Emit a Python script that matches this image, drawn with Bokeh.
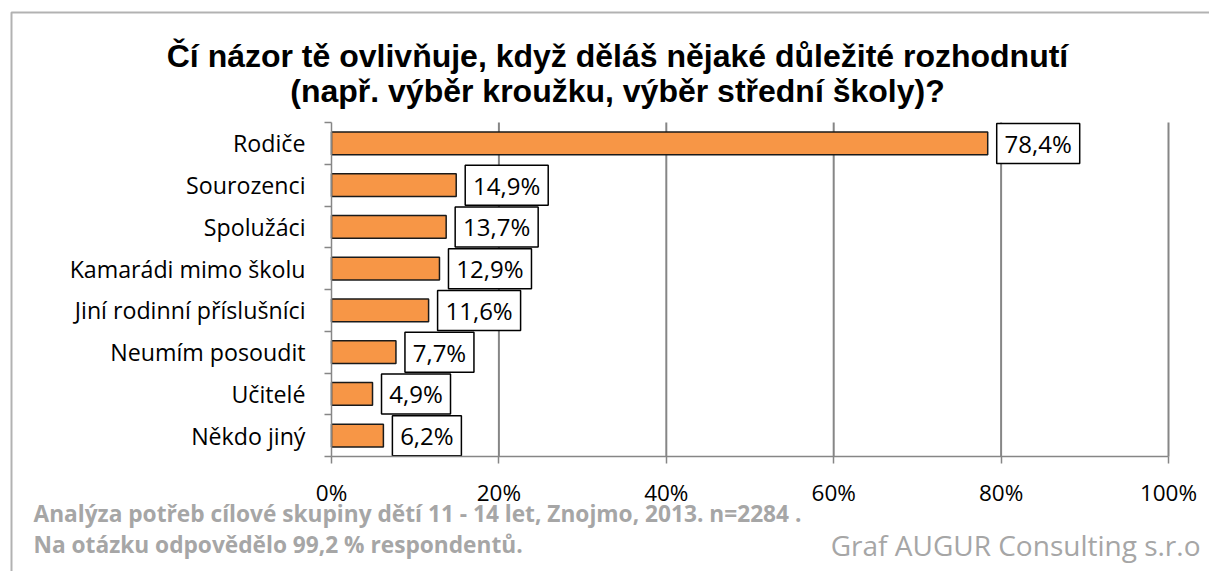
from bokeh.plotting import figure
from bokeh.models import (ColumnDataSource, Label, FixedTicker, Range1d,
                          BoxAnnotation, NumeralTickFormatter, CustomJSTickFormatter)
from bokeh.embed import file_html
from bokeh.resources import INLINE
from bokeh.core.properties import value

categories = ["Rodiče", "Sourozenci", "Spolužáci", "Kamarádi mimo školu",
              "Jiní rodinní příslušníci", "Neumím posoudit", "Učitelé", "Někdo jiný"]
values = [78.4, 14.9, 13.7, 12.9, 11.6, 7.7, 4.9, 6.2]
value_labels = ["78,4%", "14,9%", "13,7%", "12,9%", "11,6%", "7,7%", "4,9%", "6,2%"]
x_ticks = [0, 0.2, 0.4, 0.6, 0.8, 1.0]
title_lines = ["Čí názor tě ovlivňuje, když děláš nějaké důležité rozhodnutí",
               "(např. výběr kroužku, výběr střední školy)?"]
footer_lines = ["Analýza potřeb cílové skupiny dětí 11 - 14 let, Znojmo, 2013. n=2284 .",
                "Na otázku odpovědělo 99,2 % respondentů."]
credit = "Graf AUGUR Consulting s.r.o"

# ---- layout geometry (pixels) ----
W, H = 1209, 571
X0_PX, X1_PX = 331, 1168      # 0% and 100%
Y0_PX, Y1_PX = 456, 122       # bottom / top of category area
n = len(categories)
PX_X = X1_PX - X0_PX          # pixels per x unit
PX_Y = (Y0_PX - Y1_PX) / n    # pixels per category


def dx(px):
    return (px - X0_PX) / PX_X


def dy(py):
    return (Y0_PX - py) / PX_Y


ys = [n - i - 0.5 for i in range(n)]
xs = [v / 100 for v in values]
box_w = [13 + 14 * len(s) for s in value_labels]
box_cx = [x + (9 + w / 2) / PX_X for x, w in zip(xs, box_w)]
src = ColumnDataSource(dict(y=ys, x=xs, label=value_labels, bw=box_w, bcx=box_cx))

p = figure(width=W, height=H, x_range=Range1d(dx(0), dx(W)), y_range=Range1d(dy(H), dy(0)),
           output_backend="svg", toolbar_location=None, min_border=0)
p.outline_line_color = None
p.background_fill_color = "white"
p.border_fill_color = "white"
p.xgrid.visible = False
p.ygrid.visible = False

# gridlines
p.segment(x0=x_ticks[1:], x1=x_ticks[1:], y0=0, y1=n, line_color="#868686", line_width=2)

# bars
p.hbar(y="y", left=0, right="x", height=0.55, fill_color="#F79646",
       line_color="#1a1a1a", line_width=1.5, source=src)

# value label boxes
p.rect(x="bcx", y="y", width="bw", height=40, width_units="screen", height_units="screen",
       fill_color="white", line_color="black", line_width=1.5, source=src)
p.text(x="bcx", y="y", text="label", text_align="center", text_baseline="middle",
       text_font=value("Open Sans"), text_font_size="24px", text_color="black", source=src)

# axes
xa = p.xaxis[0]
xa.fixed_location = 0
xa.bounds = (0, 1)
xa.ticker = FixedTicker(ticks=x_ticks, minor_ticks=[])
xa.formatter = NumeralTickFormatter(format="0%")
xa.axis_line_color = "#868686"
xa.axis_line_width = 1.5
xa.major_tick_line_color = "#868686"
xa.major_tick_line_width = 1.5
xa.major_tick_out = 7
xa.major_tick_in = 0
xa.minor_tick_line_color = None
xa.major_label_text_font = "Open Sans"
xa.major_label_text_font_size = "22.5px"
xa.major_label_text_color = "black"
xa.major_label_standoff = 13

ya = p.yaxis[0]
ya.fixed_location = 0
ya.bounds = (0, n)
ya.ticker = FixedTicker(ticks=ys, minor_ticks=list(range(n + 1)))
ya.formatter = CustomJSTickFormatter(args=dict(labels=categories, n=n),
                                     code="return labels[n - 1 - Math.floor(tick)];")
ya.axis_line_color = "#868686"
ya.axis_line_width = 1.5
ya.major_tick_line_color = None
ya.major_tick_out = 0
ya.major_tick_in = 0
ya.minor_tick_line_color = "#868686"
ya.minor_tick_line_width = 1.5
ya.minor_tick_out = 7
ya.minor_tick_in = 0
ya.major_label_text_font = "Open Sans"
ya.major_label_text_font_size = "23.2px"
ya.major_label_text_color = "black"
ya.major_label_standoff = 19

# titles
for py, t in zip([55, 90], title_lines):
    p.add_layout(Label(x=dx(617), y=dy(py), text=t, text_align="center", text_baseline="middle",
                       text_font="Liberation Sans", text_font_style="bold",
                       text_font_size="32px", text_color="black"))

# footer
for py, t in zip([513, 544], footer_lines):
    p.add_layout(Label(x=dx(33), y=dy(py), text=t, text_align="left", text_baseline="middle",
                       text_font="Open Sans", text_font_style="bold",
                       text_font_size="22.7px", text_color="#A6A6A6"))
p.add_layout(Label(x=dx(1200), y=dy(544), text=credit, text_align="right", text_baseline="middle",
                   text_font="Open Sans", text_font_size="28px", text_color="#A6A6A6"))

# chart border
p.add_layout(BoxAnnotation(left=dx(11), right=dx(W + 20), top=dy(12), bottom=dy(H + 20),
                           fill_alpha=0, line_color="black", line_width=2))

open("out.html", "w").write(file_html(p, INLINE))
